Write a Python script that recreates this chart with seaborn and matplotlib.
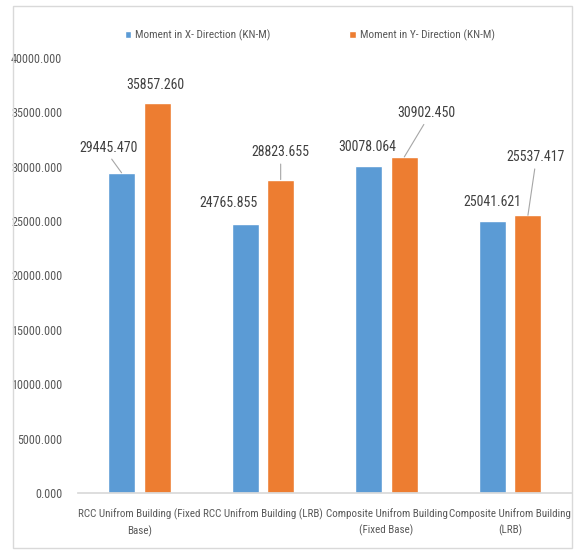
import matplotlib
matplotlib.use("Agg")
import matplotlib.pyplot as plt
from matplotlib import font_manager as fm
import seaborn as sns
import pandas as pd
from matplotlib.patches import Rectangle

categories = ["RCC Unifrom Building (Fixed\nBase)", "RCC Unifrom Building (LRB)",
              "Composite Unifrom Building\n(Fixed Base)", "Composite Unifrom Building\n(LRB)"]
series_names = ["Moment in X- Direction (KN-M)", "Moment in Y- Direction (KN-M)"]
x_values = [29445.470, 24765.855, 30078.064, 25041.621]
y_values = [35857.260, 28823.655, 30902.450, 25537.417]
yticks = [0, 5000, 10000, 15000, 20000, 25000, 30000, 35000, 40000]

# label offsets (points) relative to bar top: (dx, dy, leader line)
x_label_offsets = [(-9.4, 13, True), (-12, 10, False), (-1, 8.6, False), (0, 8.6, False)]
y_label_offsets = [(-1.5, 8, False), (0, 14.5, True), (16, 26.6, True), (5.4, 36.7, True)]

sns.set_theme(style="white")

# choose a condensed font if available
entries = {(f.name, str(f.stretch)) for f in fm.fontManager.ttflist}
all_names = {n for n, _ in entries}
family = None
stretch = "normal"
w = 0.82
for cand in ["Liberation Sans Narrow", "Roboto Condensed", "Open Sans Condensed",
             "DejaVu Sans Condensed", "Noto Sans Condensed"]:
    if cand in all_names:
        family, w = cand, 1.0
        break
if family is None:
    for n, s in entries:
        if n in ("DejaVu Sans", "Noto Sans", "Roboto", "Open Sans", "Liberation Sans") and \
                s in ("condensed", "semi-condensed", "extra-condensed"):
            family, stretch, w = n, s, 1.0
            break
if family is None:
    family = "Liberation Sans"

plt.rcParams['font.family'] = [family, 'DejaVu Sans']
plt.rcParams['font.stretch'] = stretch
text_color = "#595959"

df = pd.DataFrame({
    "cat": categories * 2,
    "series": [series_names[0]] * 4 + [series_names[1]] * 4,
    "val": x_values + y_values,
})

fig = plt.figure(figsize=(5.76, 5.5), dpi=100)
ax = fig.add_axes([77.5 / 576, 1 - 493 / 550, 494.5 / 576, 435 / 550])
sns.barplot(data=df, x="cat", y="val", hue="series", order=categories,
            hue_order=series_names, palette=["#5B9BD5", "#ED7D31"],
            width=0.574, gap=0.24, ax=ax, errorbar=None, saturation=1)

ax.set_ylim(0, 40000)
ax.set_xlim(-0.5, 3.5)
ax.set_yticks(yticks)
ax.set_yticklabels([f"{v:.3f}" for v in yticks], color=text_color, fontsize=8.7 * w)
ax.tick_params(axis="x", labelsize=7.9 * w, colors=text_color, length=0, pad=11)
ax.tick_params(axis="y", length=0, pad=11)
for lab in ax.get_xticklabels():
    lab.set_linespacing(1.6)
ax.set_xlabel("")
ax.set_ylabel("")
for s in ["top", "right", "left"]:
    ax.spines[s].set_visible(False)
ax.spines["bottom"].set_color("#D9D9D9")

containers = ax.containers
for cont, vals, offs in [(containers[0], x_values, x_label_offsets),
                         (containers[1], y_values, y_label_offsets)]:
    for bar, v, (dx, dy, lead) in zip(cont, vals, offs):
        cx = bar.get_x() + bar.get_width() / 2
        top = bar.get_height()
        ax.annotate(f"{v:.3f}", xy=(cx, top), xytext=(dx, dy), textcoords="offset points",
                    ha="center", va="bottom", fontsize=10 * w, color="#404040",
                    arrowprops=dict(arrowstyle="-", color="#A6A6A6", lw=0.8, relpos=(0.5, 0),
                                    shrinkA=1, shrinkB=0) if lead else None,
                    annotation_clip=False)

leg = ax.legend(loc="center", bbox_to_anchor=(0.47, 1.053), ncol=2, frameon=False,
                fontsize=8.1 * w, handlelength=0.55, handleheight=0.55, columnspacing=7,
                handletextpad=0.4)
for t in leg.get_texts():
    t.set_color(text_color)

fig.patches.append(Rectangle((13 / 576, 2 / 550), 559 / 576, 542 / 550,
                             transform=fig.transFigure, fill=False,
                             edgecolor="#D9D9D9", lw=1))

fig.savefig("out.png", dpi=100)
